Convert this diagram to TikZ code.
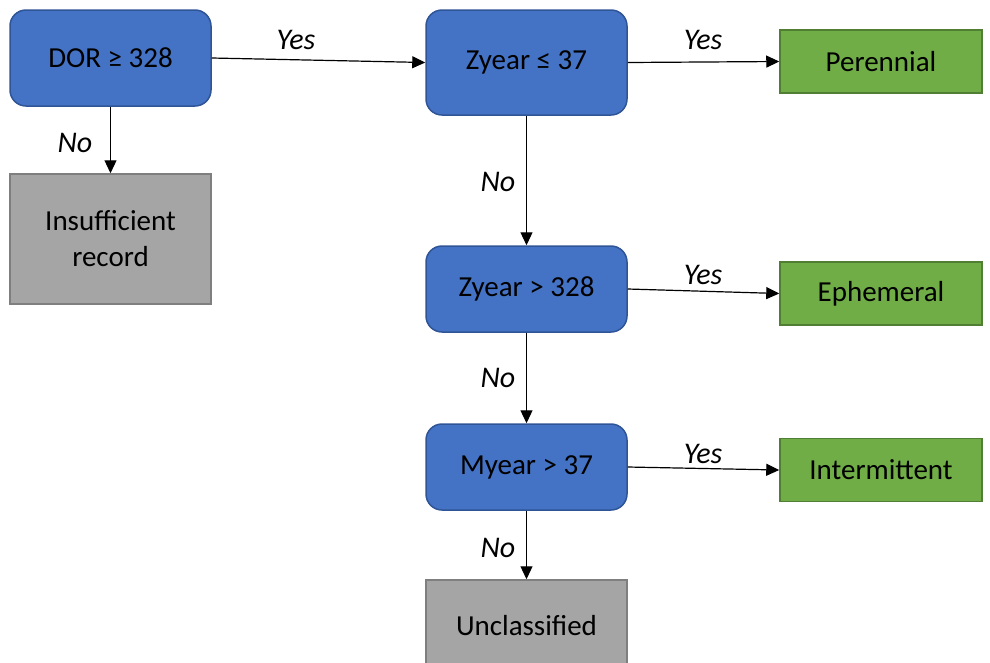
\documentclass[tikz,border=0pt]{standalone}
\usepackage{fontspec}
\setmainfont{Carlito}
\usetikzlibrary{arrows.meta}
\definecolor{blueF}{HTML}{4472C4}
\definecolor{blueD}{HTML}{2F5597}
\definecolor{greenF}{HTML}{70AD47}
\definecolor{greenD}{HTML}{507E32}
\definecolor{grayF}{HTML}{A5A5A5}
\definecolor{grayD}{HTML}{7F7F7F}
\begin{document}
\begin{tikzpicture}[x=1pt,y=-1pt,
  font=\fontsize{29}{36}\selectfont,
  decbox/.style={draw=blueD, fill=blueF, line width=1.5pt, rounded corners=16pt,
    minimum width=201pt, inner sep=0pt, align=center},
  greenbox/.style={draw=greenD, fill=greenF, line width=1.5pt,
    minimum width=202pt, minimum height=63pt, inner sep=0pt, align=center},
  graybox/.style={draw=grayD, fill=grayF, line width=1.5pt,
    minimum width=201pt, inner sep=0pt, align=center},
  arr/.style={line width=1.2pt, -{Triangle[length=13pt,width=12pt]}},
  lab/.style={font=\fontsize{30}{34}\selectfont\itshape}]
\useasboundingbox (0,0) rectangle (990,662);

\node[decbox, minimum height=96pt] (dor) at (110.5,58) {DOR ≥ 328};
\node[graybox, minimum height=130pt] (ins) at (110.5,239) {Insufficient\\record};

\node[decbox, minimum height=105pt] (z1) at (526.5,62.5) {Zyear ≤ 37};
\node[decbox, minimum height=86pt] (z2) at (526.5,289) {Zyear > 328};
\node[decbox, minimum height=86pt] (m1) at (526.5,467) {Myear > 37};
\node[graybox, minimum height=92pt] (unc) at (526.5,626) {Unclassified};

\node[greenbox] (per) at (881,61.5) {Perennial};
\node[greenbox] (eph) at (881,293.5) {Ephemeral};
\node[greenbox] (int) at (881,470) {Intermittent};

\draw[arr] (dor.east) -- (z1.west);
\draw[arr] (dor.south) -- (ins.north);
\draw[arr] (z1.east) -- (per.west);
\draw[arr] (z1.south) -- (z2.north);
\draw[arr] (z2.east) -- (eph.west);
\draw[arr] (z2.south) -- (m1.north);
\draw[arr] (m1.east) -- (int.west);
\draw[arr] (m1.south) -- (unc.north);

\node[lab] (l1) at (296,40) {Yes};
\node[lab] (l2) at (75,143) {No};
\node[lab] (l3) at (703,40) {Yes};
\node[lab] (l4) at (498,182) {No};
\node[lab] (l5) at (703,275) {Yes};
\node[lab] (l6) at (498,378) {No};
\node[lab] (l7) at (703,454) {Yes};
\node[lab] (l8) at (498,548) {No};
\end{tikzpicture}
\end{document}
